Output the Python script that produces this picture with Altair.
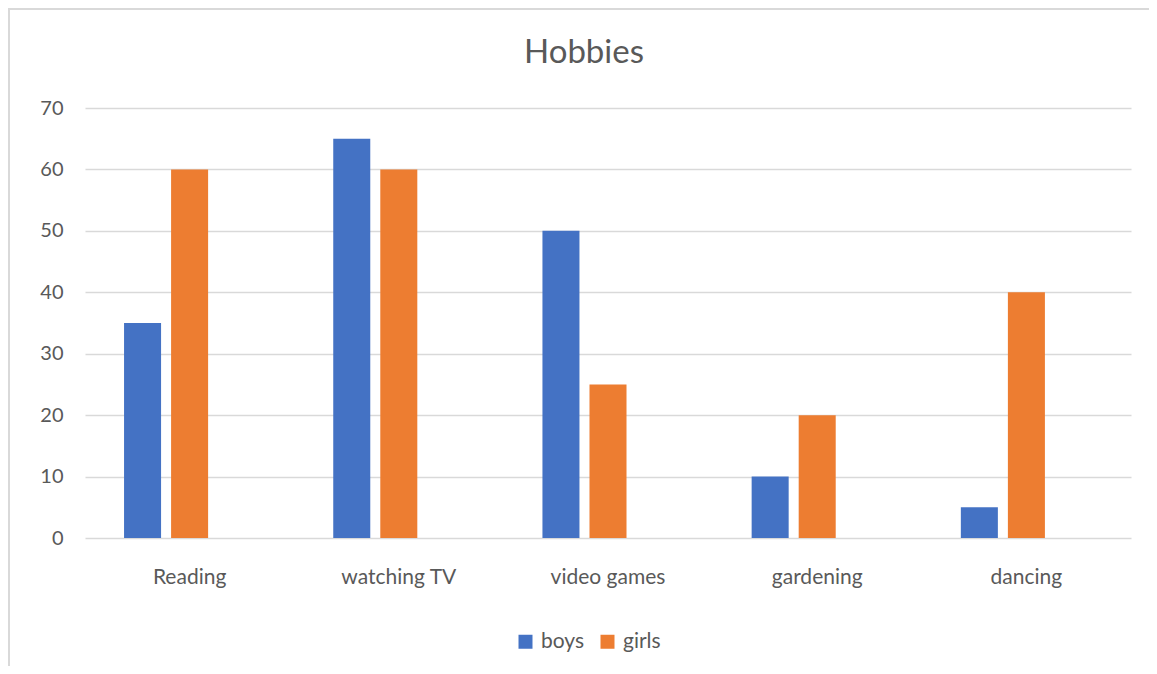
import altair as alt
import pandas as pd

categories = ["Reading", "watching TV", "video games", "gardening", "dancing"]
series = ["boys", "girls"]
boys = [35, 65, 50, 10, 5]
girls = [60, 60, 25, 20, 40]
y_ticks = [0, 10, 20, 30, 40, 50, 60, 70]

rows = []
for c, b, g in zip(categories, boys, girls):
    rows.append({"hobby": c, "series": "boys", "value": b})
    rows.append({"hobby": c, "series": "girls", "value": g})
df = pd.DataFrame(rows)

FONT = "Lato"
TXT = "#595959"
GRID = "#d9d9d9"

bars = alt.Chart(df).mark_bar().encode(
    x=alt.X(
        "hobby:N",
        sort=categories,
        scale=alt.Scale(paddingInner=0, paddingOuter=0),
        axis=alt.Axis(title=None, labelAngle=0, ticks=False, domain=False,
                      labelPadding=28, labelFontSize=21, labelColor=TXT,
                      labelFont=FONT),
    ),
    xOffset=alt.XOffset(
        "series:N",
        scale=alt.Scale(domain=["boys", "girls", "(blank)"],
                        paddingInner=0.213, paddingOuter=0.83),
    ),
    y=alt.Y(
        "value:Q",
        scale=alt.Scale(domain=[0, 70], nice=False),
        axis=alt.Axis(values=y_ticks, title=None, ticks=False, domain=False,
                      labelPadding=22, labelFontSize=20, labelColor=TXT,
                      labelFont=FONT, gridColor=GRID, gridWidth=1.3),
    ),
    color=alt.Color(
        "series:N",
        scale=alt.Scale(domain=series, range=["#4472C4", "#ED7D31"]),
        legend=alt.Legend(title=None, orient="none", legendX=430, legendY=523,
                          direction="horizontal", symbolType="square",
                          symbolSize=196, symbolStrokeWidth=0,
                          labelFontSize=21, labelFont=FONT, labelColor=TXT,
                          labelOffset=5, columnPadding=12),
    ),
)

frame = pd.DataFrame({"k": [0]})
left_border = alt.Chart(frame).mark_rule(color=GRID, strokeWidth=2).encode(
    x=alt.value(-76), y=alt.value(-100), y2=alt.value(570)
)
top_border = alt.Chart(frame).mark_rule(color=GRID, strokeWidth=2).encode(
    x=alt.value(-77), x2=alt.value(1064), y=alt.value(-99)
)

chart = alt.layer(bars, left_border, top_border).properties(
    width=1046,
    height=430,
    title=alt.Title("Hobbies", fontSize=33, font=FONT, color=TXT,
                    fontWeight="normal", offset=0, dy=63, dx=-24,
                    anchor="middle"),
    autosize=alt.AutoSizeParams(type="none"),
    padding={"left": 77, "top": 100, "right": 18, "bottom": 128},
).configure_view(stroke=None)

chart.save("out.html", embed_options={"renderer": "svg", "actions": False})
